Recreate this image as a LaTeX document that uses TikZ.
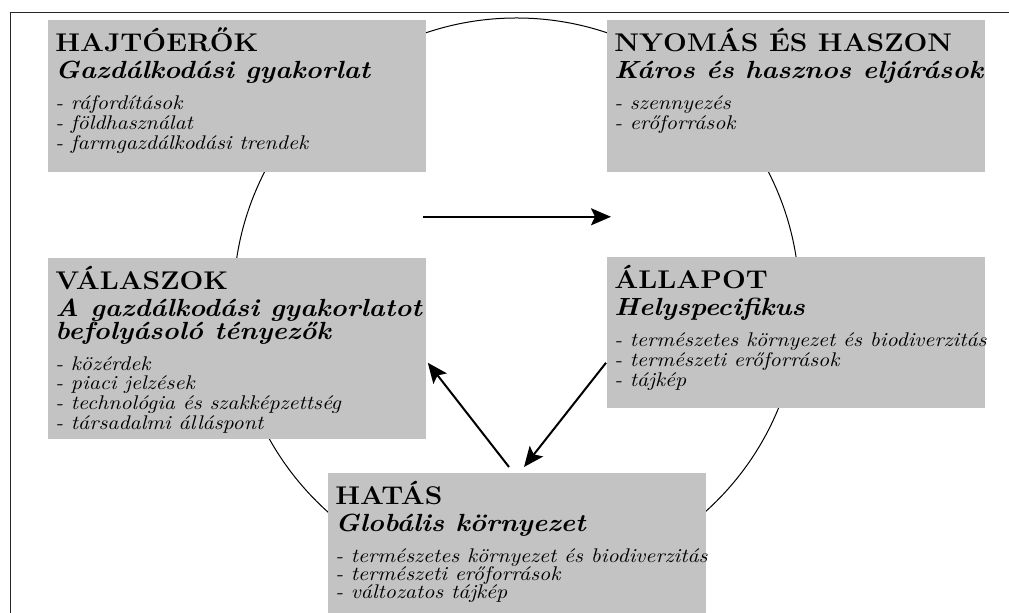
\documentclass[tikz,border=0pt]{standalone}
\usepackage{fontspec}
\setmainfont{Latin Modern Roman}[FakeStretch=1.1]
\usepackage{tikz}
\usetikzlibrary{calc}
\usetikzlibrary{arrows.meta}
\definecolor{panelgray}{RGB}{195,195,195}
\tikzstyle{panel} = [rectangle, 
anchor=north west, 
inner sep=0pt, 
minimum width=189pt, 
fill=panelgray]
\tikzstyle{arrow} = [line width=1pt,-{Stealth[length=10pt,width=8.5pt,inset=2pt]}]
\tikzstyle{ring} = [line width=0.5pt]

\newcommand{\headfont}{\fontsize{12.8}{13.75}\selectfont\bfseries}
\newcommand{\subfont}{\fontsize{12.4}{11.5}\selectfont\bfseries\itshape}
\newcommand{\itemfont}{\fontsize{9.9}{10}\selectfont\itshape}
% height, heading, subtitle, items, item spacing
\newcommand{\panelbody}[5]{%
  \makebox[189pt][l]{\hspace*{3.5pt}\parbox[t][#1][t]{230pt}{\lineskiplimit=-20pt\lineskip=0pt
    {\headfont\rule{0pt}{15.5pt}#2\par}
    \vspace{2.25pt}
    {\subfont #3\par}
    \vspace{\dimexpr15.25pt-#5\relax}
    {\itemfont\baselineskip=#5 #4\par}}}}

\begin{document}
\begin{tikzpicture}[x=0.5pt, y=-0.5pt]
    \useasboundingbox (0,0) rectangle (1009,613);
    \draw [line width=0.5pt, black!85] (10,613) -- (10,13) -- (1009,13);

    % cycle
    \draw [ring] (516.5,301) circle [radius=141.5pt];

    \node (drivers) [panel] at (48,20) {\panelbody{76pt}{HAJTÓERŐK}{Gazdálkodási gyakorlat}{- ráfordítások\\- földhasználat\\- farmgazdálkodási trendek}{10pt}};
    \node (pressures) [panel] at (607,20) {\panelbody{76pt}{NYOMÁS ÉS HASZON}{Káros és hasznos eljárások}{- szennyezés\\- erőforrások}{10pt}};
    \node (responses) [panel] at (48,258) {\panelbody{90.5pt}{VÁLASZOK}{A gazdálkodási gyakorlatot\\befolyásoló tényezők}{- közérdek\\- piaci jelzések\\- technológia és szakképzettség\\- társadalmi álláspont}{9.8pt}};
    \node (state) [panel] at (607,257) {\panelbody{75.5pt}{ÁLLAPOT}{Helyspecifikus}{- természetes környezet és biodiverzitás\\- természeti erőforrások\\- tájkép}{10pt}};
    \node (impact) [panel] at (328,473) {\panelbody{70pt}{HATÁS}{Globális környezet}{- természetes környezet és biodiverzitás\\- természeti erőforrások\\- változatos tájkép}{9pt}};

    \coordinate (hstart) at ($(drivers.south east)+(-4,44)$);
    \coordinate (hend) at ($(pressures.south west)+(4,44)$);

    % arrows
    \draw [arrow] (hstart) -- (hend);
    \draw [arrow] ($(state.south west)+(-1,-46)$) -- ($(impact.north west)+(196,-6)$);
    \draw [arrow] ($(impact.north west)+(181,-6)$) -- ($(responses.south east)+(1,-77)$);
\end{tikzpicture}
\end{document}
